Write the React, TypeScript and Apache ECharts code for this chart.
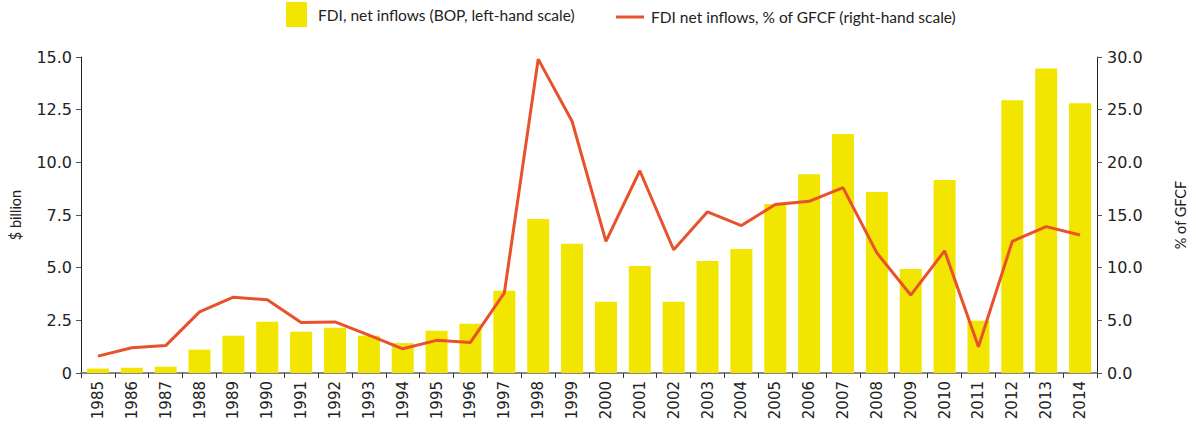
import React, { useEffect, useRef } from "react";
import * as echarts from "echarts";

const years = [
  "1985", "1986", "1987", "1988", "1989", "1990", "1991", "1992", "1993", "1994",
  "1995", "1996", "1997", "1998", "1999", "2000", "2001", "2002", "2003", "2004",
  "2005", "2006", "2007", "2008", "2009", "2010", "2011", "2012", "2013", "2014",
];

const fdiBillion = [
  0.21, 0.25, 0.3, 1.11, 1.77, 2.43, 1.96, 2.15, 1.77, 1.42,
  2.01, 2.34, 3.9, 7.31, 6.13, 3.38, 5.08, 3.38, 5.32, 5.89,
  8.02, 9.44, 11.34, 8.59, 4.94, 9.16, 2.48, 12.95, 14.46, 12.81,
];

const fdiPctGfcf = [
  1.6, 2.4, 2.6, 5.8, 7.2, 6.95, 4.8, 4.85, 3.6, 2.3,
  3.1, 2.9, 7.6, 29.8, 23.9, 12.5, 19.2, 11.7, 15.3, 14.0,
  16.0, 16.3, 17.6, 11.4, 7.4, 11.6, 2.5, 12.5, 13.9, 13.1,
];

const barName = "FDI, net inflows (BOP, left-hand scale)";
const lineName = "FDI net inflows, % of GFCF (right-hand scale)";

const BAR_COLOR = "#F2E600";
const LINE_COLOR = "#E8512B";
const AXIS_FONT = "DejaVu Sans";
const TEXT_FONT = "Lato";

export default function App() {
  const ref = useRef<HTMLDivElement>(null);

  useEffect(() => {
    if (!ref.current) return;
    const chart = echarts.init(ref.current, null, { renderer: "svg" });
    chart.setOption({
      animation: false,
      legend: [
        {
          data: [{ name: barName, icon: "rect" }],
          left: 286,
          top: 2,
          padding: 0,
          itemWidth: 21,
          itemHeight: 25,
          selectedMode: false,
          textStyle: {
            fontFamily: TEXT_FONT,
            fontSize: 15.5,
            color: "#222",
            padding: [4, 0, 0, 6],
          },
        },
        {
          data: [{ name: lineName, icon: "rect" }],
          left: 616,
          top: 9,
          padding: 0,
          itemWidth: 28,
          itemHeight: 3,
          selectedMode: false,
          textStyle: {
            fontFamily: TEXT_FONT,
            fontSize: 15.5,
            color: "#222",
            padding: [0, 0, 0, 2],
          },
        },
      ],
      grid: { left: 75, right: 81, top: 57, bottom: 54, containLabel: false },
      xAxis: [
        {
          type: "category",
          data: years,
          axisLine: { lineStyle: { color: "#7f7f7f", width: 1.5 } },
          axisTick: { show: true, length: 5, lineStyle: { color: "#333" } },
          axisLabel: {
            rotate: 90,
            fontFamily: AXIS_FONT,
            fontSize: 15,
            color: "#222",
            margin: 8,
          },
        },
        {
          type: "category",
          data: years,
          position: "top",
          axisLine: { show: true, lineStyle: { color: "#7f7f7f", width: 1.5 } },
          axisTick: { show: false },
          axisLabel: { show: false },
        },
      ],
      yAxis: [
        {
          type: "value",
          min: 0,
          max: 15,
          interval: 2.5,
          name: "$ billion",
          nameLocation: "middle",
          nameRotate: 90,
          nameGap: 58,
          nameTextStyle: { fontFamily: TEXT_FONT, fontSize: 14.5, color: "#222" },
          axisLine: { show: true, lineStyle: { color: "#222", width: 1 } },
          axisTick: { show: true, length: 5, lineStyle: { color: "#555" } },
          splitLine: { show: false },
          axisLabel: {
            fontFamily: AXIS_FONT,
            fontSize: 16,
            color: "#222",
            margin: 9,
            formatter: (v: number) => (v === 0 ? "0" : v.toFixed(1)),
          },
        },
        {
          type: "value",
          min: 0,
          max: 30,
          interval: 5,
          name: "% of GFCF",
          nameLocation: "middle",
          nameRotate: 90,
          nameGap: 76,
          nameTextStyle: { fontFamily: TEXT_FONT, fontSize: 14.5, color: "#222" },
          axisLine: { show: true, lineStyle: { color: "#222", width: 1 } },
          axisTick: { show: true, length: 5, lineStyle: { color: "#555" } },
          splitLine: { show: false },
          axisLabel: {
            fontFamily: AXIS_FONT,
            fontSize: 16,
            color: "#222",
            margin: 10,
            formatter: (v: number) => v.toFixed(1),
          },
        },
      ],
      series: [
        {
          name: barName,
          type: "bar",
          xAxisIndex: 0,
          yAxisIndex: 0,
          data: fdiBillion,
          barWidth: 22,
          itemStyle: { color: BAR_COLOR },
        },
        {
          name: lineName,
          type: "line",
          xAxisIndex: 0,
          yAxisIndex: 1,
          data: fdiPctGfcf,
          symbol: "none",
          showSymbol: false,
          lineStyle: { color: LINE_COLOR, width: 3 },
          itemStyle: { color: LINE_COLOR },
        },
      ],
    });
    return () => chart.dispose();
  }, []);

  return (
    <div
      ref={ref}
      style={{ position: "fixed", left: 0, top: 0, width: 1196, height: 427, background: "#fff" }}
    />
  );
}
